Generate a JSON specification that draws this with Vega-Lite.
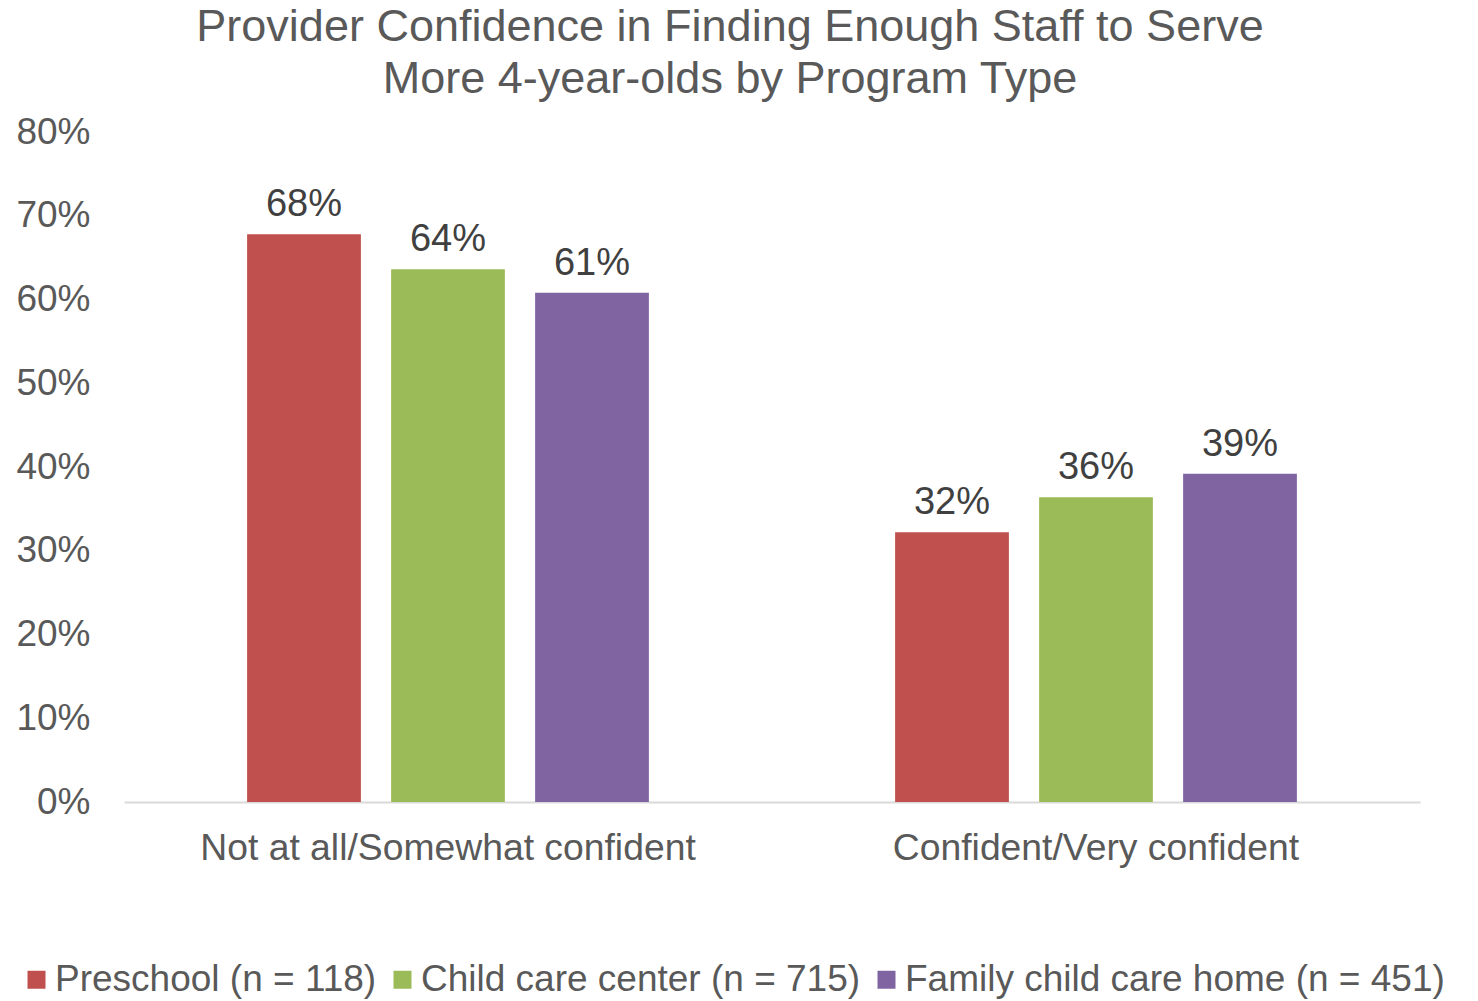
{
  "$schema": "https://vega.github.io/schema/vega-lite/v6.json",
  "autosize": "none",
  "width": 1296,
  "height": 670,
  "padding": {"left": 124, "top": 132, "right": 58, "bottom": 199},
  "background": "white",
  "config": {
    "font": "Liberation Sans",
    "view": {"stroke": null}
  },
  "title": {
    "text": ["Provider Confidence in Finding Enough Staff to Serve", "More 4-year-olds by Program Type"],
    "fontSize": 45,
    "fontWeight": "normal",
    "color": "#595959",
    "anchor": "middle",
    "dx": -42,
    "lineHeight": 52,
    "offset": 11
  },
  "data": {
    "values": [
      {"response": "Not at all/Somewhat confident", "program": "Preschool (n = 118)", "value": 0.678, "label": "68%"},
      {"response": "Not at all/Somewhat confident", "program": "Child care center (n = 715)", "value": 0.636, "label": "64%"},
      {"response": "Not at all/Somewhat confident", "program": "Family child care home (n = 451)", "value": 0.608, "label": "61%"},
      {"response": "Confident/Very confident", "program": "Preschool (n = 118)", "value": 0.322, "label": "32%"},
      {"response": "Confident/Very confident", "program": "Child care center (n = 715)", "value": 0.364, "label": "36%"},
      {"response": "Confident/Very confident", "program": "Family child care home (n = 451)", "value": 0.392, "label": "39%"}
    ]
  },
  "encoding": {
    "x": {
      "field": "response",
      "type": "nominal",
      "sort": ["Not at all/Somewhat confident", "Confident/Very confident"],
      "scale": {"paddingInner": 0, "paddingOuter": 0},
      "axis": {
        "title": null,
        "labelAngle": 0,
        "labelFontSize": 37.3,
        "labelColor": "#595959",
        "labelPadding": 28,
        "labelLimit": 800,
        "ticks": false,
        "domainColor": "#D9D9D9",
        "domainWidth": 2
      }
    },
    "xOffset": {
      "field": "program",
      "type": "nominal",
      "sort": ["Preschool (n = 118)", "Child care center (n = 715)", "Family child care home (n = 451)"],
      "scale": {"paddingInner": 0.21, "paddingOuter": 0.855}
    },
    "y": {
      "field": "value",
      "type": "quantitative",
      "scale": {"domain": [0, 0.8]},
      "axis": {
        "title": null,
        "format": ".0%",
        "values": [0, 0.1, 0.2, 0.3, 0.4, 0.5, 0.6, 0.7, 0.8],
        "grid": false,
        "domain": false,
        "ticks": false,
        "labelFontSize": 37,
        "labelColor": "#595959",
        "labelPadding": 34
      }
    },
    "color": {
      "field": "program",
      "type": "nominal",
      "sort": ["Preschool (n = 118)", "Child care center (n = 715)", "Family child care home (n = 451)"],
      "scale": {"range": ["#C0504D", "#9BBB59", "#8064A2"]},
      "legend": {
        "title": null,
        "orient": "none",
        "legendX": -106,
        "legendY": 829,
        "direction": "horizontal",
        "columns": 3,
        "symbolType": "square",
        "symbolSize": 324,
        "symbolStrokeWidth": 0,
        "labelFontSize": 37,
        "labelColor": "#595959",
        "labelLimit": 700,
        "labelOffset": 0,
        "columnPadding": 7
      }
    }
  },
  "layer": [
    {"mark": {"type": "bar"}},
    {
      "mark": {"type": "text", "baseline": "alphabetic", "dy": -18, "fontSize": 38},
      "encoding": {
        "text": {"field": "label"},
        "color": {"value": "#404040"}
      }
    }
  ]
}
